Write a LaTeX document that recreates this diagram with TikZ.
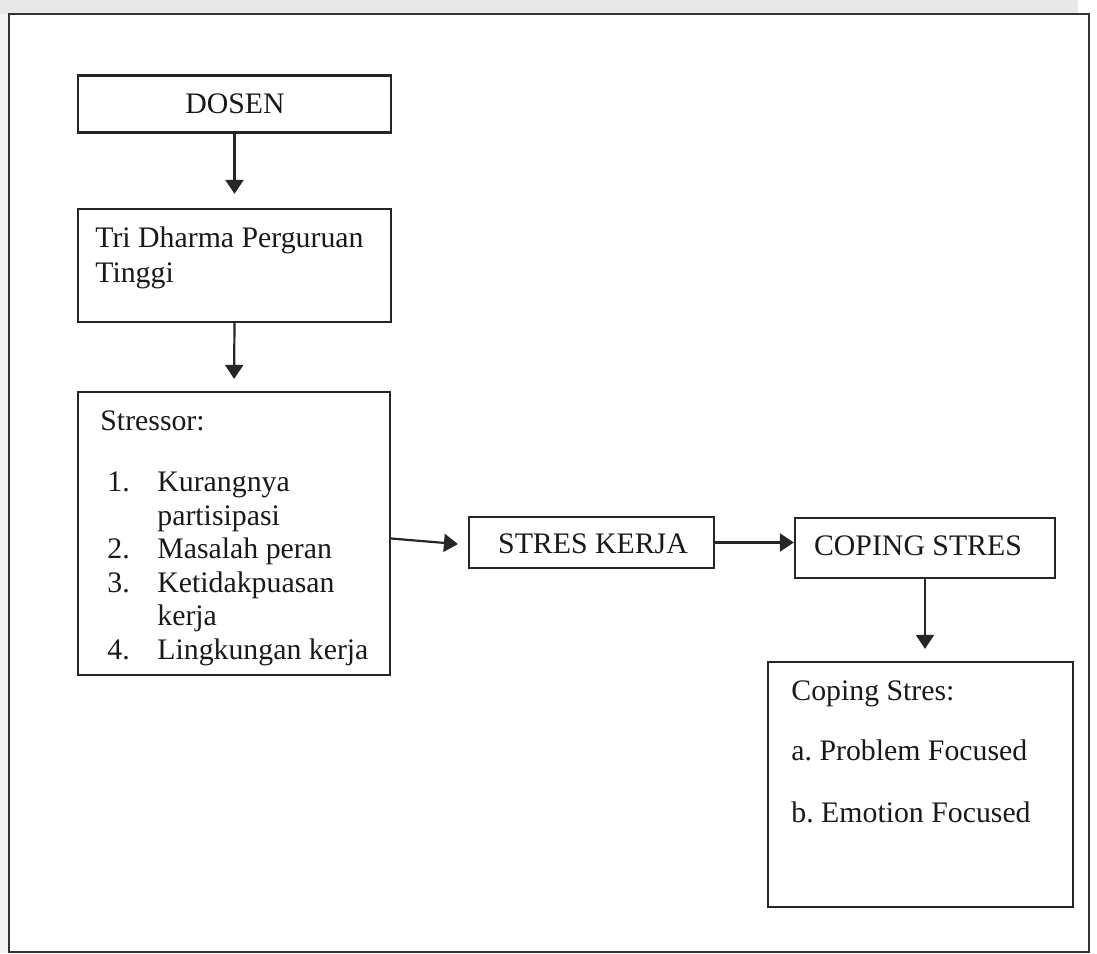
\documentclass[tikz,border=0pt]{standalone}
\usepackage{fontspec}
\setmainfont{Liberation Serif}
\usetikzlibrary{arrows.meta}
\frenchspacing
\begin{document}
\begin{tikzpicture}[x=0.5pt,y=-0.5pt,
  every node/.style={font=\fontsize{14.9}{18}\selectfont, text=black!90},
  boxnode/.style={draw=black!85, line width=1.1pt, inner sep=0pt},
  txt/.style={anchor=base west, inner sep=0pt},
  ctxt/.style={anchor=base, inner sep=0pt},
  link/.style={draw=black!85, line width=1.1pt, -{Triangle[width=9pt,length=7pt]}}]
\useasboundingbox (0,0) rectangle (1097,953);
% background strips
\fill[gray!18] (0,0) rectangle (1078,14);
\fill[gray!9] (0,14) rectangle (8,953);
\draw[black!80, line width=1.3pt] (9,14) rectangle (1089,952);

% boxes
\node[boxnode, minimum width=156.5pt, minimum height=28.5pt] (dosen) at (234.5,104) {};
\node[boxnode, minimum width=156.5pt, minimum height=56.5pt] (tri) at (234.5,265.5) {};
\node[boxnode, minimum width=156pt, minimum height=141.5pt] (stressor) at (234,533.5) {};
\node[boxnode, minimum width=122.5pt, minimum height=25.5pt] (sk) at (591.5,542.5) {};
\node[boxnode, minimum width=130pt, minimum height=30pt] (cs) at (925,548) {};
\node[boxnode, minimum width=152.5pt, minimum height=122.5pt] (cbox) at (920.5,784.5) {};

% texts
\node[ctxt] (tdosen) at (235,113) {DOSEN};
\node[txt] (ttri1) at (95,247) {Tri Dharma Perguruan};
\node[txt] (ttri2) at (95,282) {Tinggi};
\node[txt] (tstr) at (100,430) {Stressor:};
\node[txt] (n1) at (107,491) {1.};
\node[txt] (i1a) at (157,491) {Kurangnya};
\node[txt] (i1b) at (157,525) {partisipasi};
\node[txt] (n2) at (107,558) {2.};
\node[txt] (i2) at (157,558) {Masalah peran};
\node[txt] (n3) at (107,592) {3.};
\node[txt] (i3a) at (157,592) {Ketidakpuasan};
\node[txt] (i3b) at (157,625) {kerja};
\node[txt] (n4) at (107,659) {4.};
\node[txt] (i4) at (157,659) {Lingkungan kerja};
\node[ctxt] (tsk) at (593,553) {STRES KERJA};
\node[ctxt] (tcs) at (918,555) {COPING STRES};
\node[txt] (tc1) at (791,700) {Coping Stres:};
\node[txt] (tc2) at (791,760) {a. Problem Focused};
\node[txt] (tc3) at (791,822) {b. Emotion Focused};

% connectors
\draw[link, shorten >=7pt] (dosen.south) -- (tri.north);
\draw[link, shorten >=6pt] (tri.south) -- (stressor.north);
\draw[link, shorten >=5pt] ([yshift=-2.5pt]stressor.east) -- ([yshift=-1.2pt]sk.west);
\draw[link] (sk.east) -- (sk.east -| cs.west);
\draw[link, shorten >=6pt] (cs.south) -- (cs.south |- cbox.north);
\end{tikzpicture}
\end{document}
